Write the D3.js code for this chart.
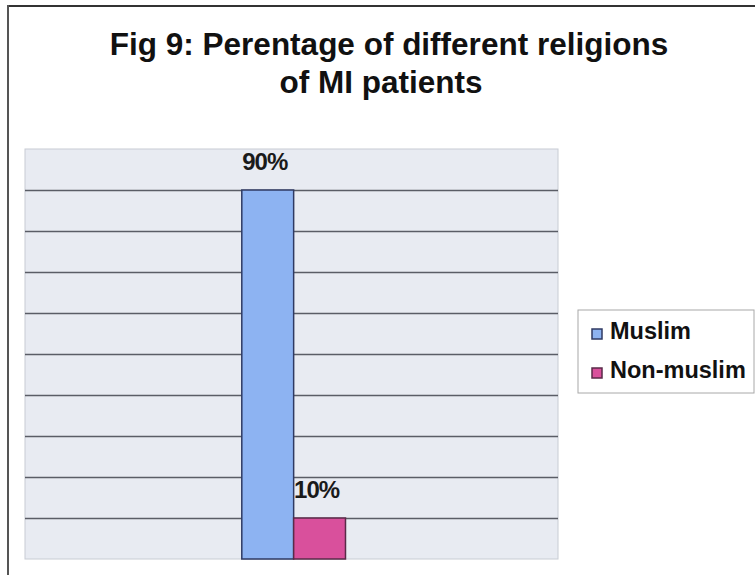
<!DOCTYPE html>
<html lang="en">
<head>
	<meta charset="utf-8">
	<title>Fig 9: religions of MI patients</title>
	<script src="https://cdn.jsdelivr.net/npm/d3@7"></script>
	<style>
		body { margin: 0; background: #fff; }
		svg { display: block; font-family: Arial, "Liberation Sans", sans-serif; }
	</style>
</head>
<body>
<svg></svg>
<script>
	const titleLines = ["Fig 9: Perentage of different religions", "of MI patients"];
	const category = ["MI patients"];
	const series = ["Muslim", "Non-muslim"];
	const values = [90, 10];
	const barColors = ["#8db3f2", "#d9509c"];
	const barStrokes = ["#2f3a63", "#5a2a48"];
	const gridTicks = [10, 20, 30, 40, 50, 60, 70, 80, 90];

	const width = 755, height = 575;
	const plot = { left: 25, right: 558, top: 149, bottom: 559 };

	const svg = d3.select("svg")
		.attr("width", width)
		.attr("height", height);

	// scanned frame lines
	svg.append("line")
		.attr("x1", 8).attr("x2", 755).attr("y1", 6).attr("y2", 6)
		.attr("stroke", "#333").attr("stroke-width", 2);
	svg.append("line")
		.attr("x1", 8).attr("x2", 8).attr("y1", 5).attr("y2", 575)
		.attr("stroke", "#555").attr("stroke-width", 2);

	// title
	svg.append("text")
		.attr("x", 389).attr("y", 55)
		.attr("text-anchor", "middle")
		.attr("font-size", 31.5).attr("font-weight", "bold")
		.attr("fill", "#111")
		.text(titleLines[0]);
	svg.append("text")
		.attr("x", 381).attr("y", 93)
		.attr("text-anchor", "middle")
		.attr("font-size", 31.5).attr("font-weight", "bold")
		.attr("fill", "#111")
		.text(titleLines[1]);

	const y = d3.scaleLinear().domain([0, 100]).range([plot.bottom, plot.top]);

	const x0 = d3.scaleBand()
		.domain(category)
		.range([plot.left, plot.right])
		.paddingInner(0)
		.paddingOuter(2.07)
		.align(0.505);

	const x1 = d3.scaleBand()
		.domain(series)
		.range([0, x0.bandwidth()]);

	// plot background
	svg.append("rect")
		.attr("x", plot.left).attr("y", plot.top)
		.attr("width", plot.right - plot.left)
		.attr("height", plot.bottom - plot.top)
		.attr("fill", "#e8ebf2")
		.attr("stroke", "#c8ccd4");

	// gridlines
	const grid = svg.append("g")
		.attr("transform", `translate(${plot.left},0)`)
		.call(d3.axisLeft(y)
			.tickValues(gridTicks)
			.tickSize(-(plot.right - plot.left))
			.tickFormat(""));
	grid.select(".domain").remove();
	grid.selectAll(".tick line")
		.attr("stroke", "#5a5d66")
		.attr("stroke-width", 1.5);

	const data = series.map((s, i) => ({ name: s, value: values[i], cat: category[0] }));

	svg.append("g")
		.selectAll("rect")
		.data(data)
		.join("rect")
		.attr("x", d => x0(d.cat) + x1(d.name))
		.attr("y", d => y(d.value))
		.attr("width", x1.bandwidth())
		.attr("height", d => y(0) - y(d.value))
		.attr("fill", (d, i) => barColors[i])
		.attr("stroke", (d, i) => barStrokes[i])
		.attr("stroke-width", 1.5);

	svg.append("g")
		.selectAll("text")
		.data(data)
		.join("text")
		.attr("x", d => x0(d.cat) + x1(d.name) + x1.bandwidth() / 2 - 3)
		.attr("y", d => y(d.value) - 20)
		.attr("text-anchor", "middle")
		.attr("font-size", 24)
		.attr("font-weight", "bold")
		.attr("letter-spacing", -1)
		.attr("fill", "#1a1a1a")
		.text(d => d.value + "%");

	// legend
	const legend = svg.append("g").attr("transform", "translate(578,310)");
	legend.append("rect")
		.attr("width", 176).attr("height", 83)
		.attr("fill", "#fff")
		.attr("stroke", "#a8a8a8");
	const items = legend.selectAll("g.item")
		.data(series)
		.join("g")
		.attr("class", "item")
		.attr("transform", (d, i) => `translate(0,${i * 39})`);
	items.append("rect")
		.attr("x", 14).attr("y", 19)
		.attr("width", 10).attr("height", 10)
		.attr("fill", (d, i) => barColors[i])
		.attr("stroke", (d, i) => barStrokes[i])
		.attr("stroke-width", 1.5);
	items.append("text")
		.attr("x", 32).attr("y", 29)
		.attr("font-size", 23.5)
		.attr("font-weight", "bold")
		.attr("fill", "#111")
		.text(d => d);
</script>
</body>
</html>
